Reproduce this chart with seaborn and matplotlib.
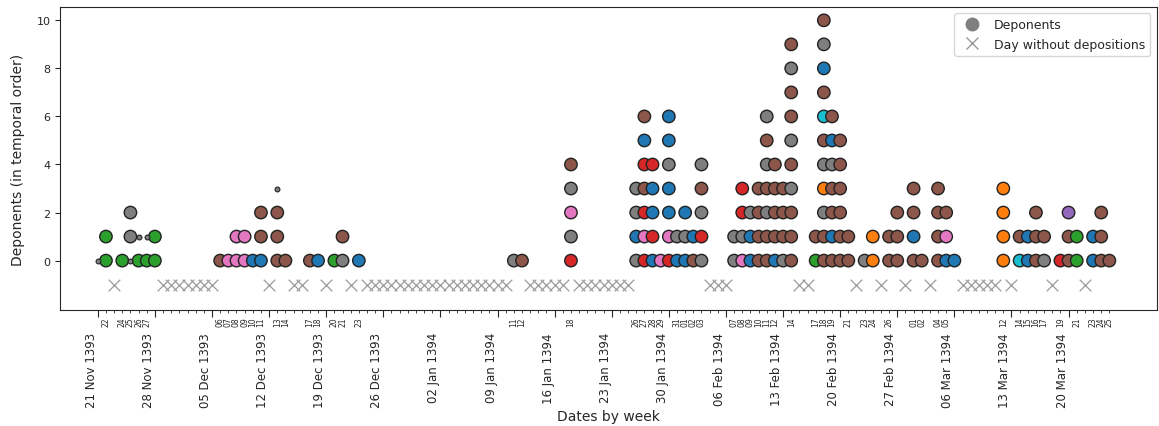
import datetime as dt

import matplotlib
matplotlib.use("Agg")
import matplotlib.pyplot as plt
import matplotlib.ticker as mticker
from matplotlib.lines import Line2D
import numpy as np
import pandas as pd
import seaborn as sns

# First and last day of the inquiry period
START = dt.date(1393, 11, 21)
END = dt.date(1394, 3, 25)

# Days with depositions, and the deponents heard that day in temporal order.
# Letter codes: B blue, O orange, G green, R red, U purple, N brown,
# P pink, A grey, C cyan, s small grey point
dep_dates = [
    "1393-11-21", "1393-11-22", "1393-11-24", "1393-11-25", "1393-11-26",
    "1393-11-27", "1393-11-28", "1393-12-06", "1393-12-07", "1393-12-08",
    "1393-12-09", "1393-12-10", "1393-12-11", "1393-12-13", "1393-12-14",
    "1393-12-17", "1393-12-18", "1393-12-20", "1393-12-21", "1393-12-23",
    "1394-01-11", "1394-01-12", "1394-01-18", "1394-01-26", "1394-01-27",
    "1394-01-28", "1394-01-29", "1394-01-30", "1394-01-31", "1394-02-01",
    "1394-02-02", "1394-02-03", "1394-02-07", "1394-02-08", "1394-02-09",
    "1394-02-10", "1394-02-11", "1394-02-12", "1394-02-13", "1394-02-14",
    "1394-02-17", "1394-02-18", "1394-02-19", "1394-02-20", "1394-02-21",
    "1394-02-23", "1394-02-24", "1394-02-26", "1394-02-27", "1394-03-01",
    "1394-03-02", "1394-03-04", "1394-03-05", "1394-03-06", "1394-03-12",
    "1394-03-14", "1394-03-15", "1394-03-16", "1394-03-17", "1394-03-19",
    "1394-03-20", "1394-03-21", "1394-03-23", "1394-03-24", "1394-03-25",
]
dep_codes = [
    "s", "GG", "G", "sAA", "Gs",
    "Gs", "GG", "N", "P", "PP",
    "PP", "B", "BNN", "NNNs", "N",
    "N", "B", "G", "AN", "B",
    "A", "N", "RAPAN", "ABAA", "RPRNRBN",
    "BRBBR", "P", "RPBBABB", "BA", "BAB",
    "NB", "ARANA", "AA", "PARR", "BBA",
    "NNNN", "NNANANA", "BNNNN", "ANNN", "NNNANANNAN",
    "GN", "NNAOANCNBAN", "NBNNABN", "NNNNNN", "NN",
    "A", "OO", "NN", "NNN", "NBNN",
    "N", "NNNN", "BPN", "B", "OOOO",
    "CN", "BB", "NNN", "AN", "R",
    "NNU", "GG", "BB", "NNN", "N",
]

PALETTE = {
    "B": "#1f77b4", "O": "#ff7f0e", "G": "#2ca02c", "R": "#d62728",
    "U": "#9467bd", "N": "#8c564b", "P": "#e377c2", "A": "#7f7f7f",
    "C": "#17becf", "s": "#7f7f7f",
}

# Long table: one row per deponent
rows = []
for day, codes in zip(dep_dates, dep_codes):
    d = (dt.date.fromisoformat(day) - START).days
    for order, code in enumerate(codes):
        rows.append((d, order, code))
deponents = pd.DataFrame(rows, columns=["day", "order", "code"])

n_days = (END - START).days
dep_days = sorted({(dt.date.fromisoformat(s) - START).days for s in dep_dates})
empty_days = [d for d in range(n_days + 1) if d not in dep_days]
empty = pd.DataFrame({"day": empty_days, "order": -1})

week_days = list(range(0, n_days, 7))
week_labels = [(START + dt.timedelta(days=d)).strftime("%d %b %Y") for d in week_days]
day_labels = {d: (START + dt.timedelta(days=d)).strftime("%d") for d in dep_days}

sns.set_style("ticks")
fig = plt.figure(figsize=(11.59, 4.27), dpi=100)
ax = fig.add_axes([0.052, 0.272, 0.946, 0.709])

big = deponents[deponents.code != "s"]
small = deponents[deponents.code == "s"]
sns.scatterplot(data=big, x="day", y="order", hue="code", palette=PALETTE,
                s=80, edgecolor="#222222", linewidth=1, legend=False, ax=ax, zorder=3)
sns.scatterplot(data=small, x="day", y="order", color=PALETTE["s"],
                s=12, edgecolor="#222222", linewidth=0.8, legend=False, ax=ax, zorder=3)
sns.scatterplot(data=empty, x="day", y="order", marker="x", color="#9a9a9a",
                s=70, linewidth=0.9, legend=False, ax=ax, zorder=2)

ax.set_xlim(-4.6, 129.8)
ax.set_ylim(-2.05, 10.55)
ax.set_yticks([0, 2, 4, 6, 8, 10])

ax.xaxis.set_major_locator(mticker.FixedLocator(week_days))
ax.xaxis.set_major_formatter(mticker.FixedFormatter(week_labels))
ax.xaxis.set_minor_locator(mticker.FixedLocator(list(range(n_days + 1))))
ax.xaxis.set_minor_formatter(mticker.FuncFormatter(lambda v, pos: day_labels.get(int(round(v)), "")))
ax.tick_params(axis="x", which="major", length=5, labelsize=8.5, pad=11, labelrotation=90)
ax.tick_params(axis="x", which="minor", length=2.5, labelsize=5.5, pad=2, labelrotation=90)
ax.tick_params(axis="y", labelsize=8)
for lab in ax.get_xticklabels(which="major"):
    lab.set_horizontalalignment("right")

ax.set_xlabel("Dates by week", fontsize=10, labelpad=1)
ax.set_ylabel("Deponents (in temporal order)", fontsize=10, labelpad=8)

handles = [
    Line2D([], [], marker="o", linestyle="none", color="#7f7f7f", markersize=9),
    Line2D([], [], marker="x", linestyle="none", color="#9a9a9a", markersize=9),
]
ax.legend(handles, ["Deponents", "Day without depositions"], loc="upper right", fontsize=9)

fig.savefig("out.png", dpi=100)
